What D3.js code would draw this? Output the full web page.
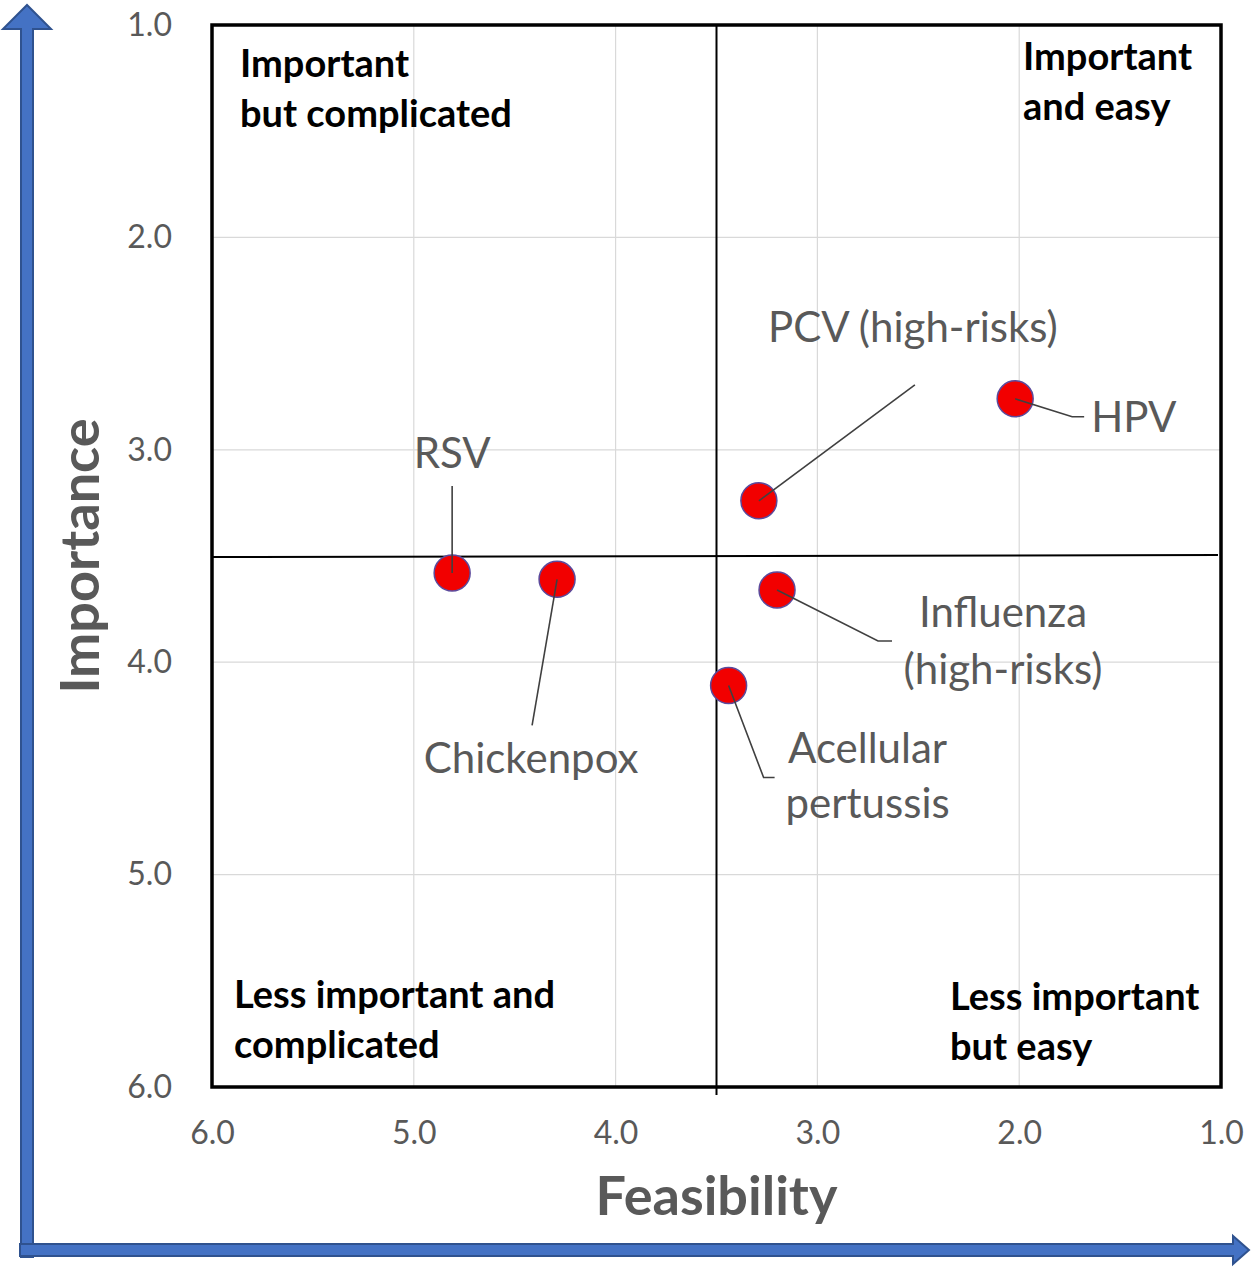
<!DOCTYPE html>
<html>
<head>
<meta charset="utf-8">
<script src="https://cdn.jsdelivr.net/npm/d3@7"></script>
<style>
  body { margin: 0; background: #fff; }
  svg { display: block; }
  text { font-family: Lato, "Open Sans", sans-serif; }
</style>
</head>
<body>
<svg id="chart" width="1253" height="1280"></svg>
<script>
// Data
const vaccines = ["HPV", "PCV (high-risks)", "Influenza (high-risks)", "Acellular pertussis", "RSV", "Chickenpox"];
const feasibility = [2.02, 3.29, 3.20, 3.44, 4.81, 4.29];
const importance = [2.76, 3.24, 3.66, 4.11, 3.58, 3.61];

const tickValues = [6, 5, 4, 3, 2, 1];
const feasibilityCut = 3.5; // quadrant split
const importanceCut = 3.5;

// Label lines for each point (callout text)
const labelLines = [["HPV"], ["PCV (high-risks)"], ["Influenza", "(high-risks)"], ["Acellular", "pertussis"], ["RSV"], ["Chickenpox"]];

// Callout layout, pixel offsets from the point (leader path, text anchor)
const callouts = [
  { path: [[57, 18], [69, 18]], tx: 76, ty: [33], anchor: "start" },
  { path: [[156, -116]], tx: 154, ty: [-159], anchor: "middle" },
  { path: [[101, 51], [115, 51]], tx: 226, ty: [37, 94], anchor: "middle" },
  { path: [[35, 92], [46, 92]], tx: 139, ty: [77, 132], anchor: "middle" },
  { path: [[0, -87]], tx: 0, ty: [-105], anchor: "middle" },
  { path: [[-25, 146]], tx: -26, ty: [194], anchor: "middle" }
];

const quadrantLabels = [
  { lines: ["Important", "but complicated"], x: 240, y: 77 },
  { lines: ["Important", "and easy"], x: 1023, y: 70 },
  { lines: ["Less important and", "complicated"], x: 234, y: 1008 },
  { lines: ["Less important", "but easy"], x: 950, y: 1010 }
];

const svg = d3.select("#chart");

const plot = { left: 212, right: 1221, top: 25, bottom: 1087 };

// Feasibility runs 6 -> 1 left to right, importance 1 -> 6 top to bottom
const x = d3.scaleLinear().domain([6, 1]).range([plot.left, plot.right]);
const y = d3.scaleLinear().domain([1, 6]).range([plot.top, plot.bottom]);

// Blue arrows framing the chart
svg.append("polygon")
  .attr("points", "21,1257 21,29 3,29 27,5 51,29 33,29 33,1257")
  .attr("fill", "#4472C4")
  .attr("stroke", "#2F528F")
  .attr("stroke-width", 2);

svg.append("polygon")
  .attr("points", "20,1244 1233,1244 1233,1236 1249,1250 1233,1264 1233,1256 20,1256")
  .attr("fill", "#4472C4")
  .attr("stroke", "#2F528F")
  .attr("stroke-width", 2);

// Gridlines
svg.append("g")
  .selectAll("line")
  .data(tickValues.filter(d => d !== 6 && d !== 1))
  .join("line")
  .attr("x1", d => x(d))
  .attr("x2", d => x(d))
  .attr("y1", plot.top)
  .attr("y2", plot.bottom)
  .attr("stroke", "#d9d9d9")
  .attr("stroke-width", 1.2);

svg.append("g")
  .selectAll("line")
  .data(tickValues.filter(d => d !== 6 && d !== 1))
  .join("line")
  .attr("x1", plot.left)
  .attr("x2", plot.right)
  .attr("y1", d => y(d))
  .attr("y2", d => y(d))
  .attr("stroke", "#d9d9d9")
  .attr("stroke-width", 1.2);

// Axes (labels only, Excel style)
const xAxis = svg.append("g")
  .attr("transform", `translate(0,${plot.bottom})`)
  .call(d3.axisBottom(x).tickValues(tickValues).tickFormat(d3.format(".1f")).tickSize(0).tickPadding(34));
xAxis.select(".domain").remove();
xAxis.selectAll("text")
  .attr("fill", "#595959")
  .attr("font-size", 32)
  .style("font-family", "Lato, sans-serif");

const yAxis = svg.append("g")
  .attr("transform", `translate(${plot.left},0)`)
  .call(d3.axisLeft(y).tickValues(tickValues).tickFormat(d3.format(".1f")).tickSize(0).tickPadding(40));
yAxis.select(".domain").remove();
yAxis.selectAll("text")
  .attr("fill", "#595959")
  .attr("font-size", 32)
  .style("font-family", "Lato, sans-serif");

// Plot frame
svg.append("rect")
  .attr("x", plot.left)
  .attr("y", plot.top)
  .attr("width", plot.right - plot.left)
  .attr("height", plot.bottom - plot.top)
  .attr("fill", "none")
  .attr("stroke", "#000")
  .attr("stroke-width", 3.5);

// Quadrant dividers
svg.append("line")
  .attr("x1", x(feasibilityCut))
  .attr("x2", x(feasibilityCut))
  .attr("y1", plot.top)
  .attr("y2", plot.bottom + 8)
  .attr("stroke", "#000")
  .attr("stroke-width", 2);

svg.append("line")
  .attr("x1", plot.left)
  .attr("x2", plot.right - 3)
  .attr("y1", y(importanceCut) + 1)
  .attr("y2", y(importanceCut) - 1)
  .attr("stroke", "#000")
  .attr("stroke-width", 2);

// Quadrant labels
quadrantLabels.forEach(q => {
  const t = svg.append("text")
    .attr("x", q.x)
    .attr("y", q.y)
    .attr("font-size", 38)
    .attr("font-weight", "bold")
    .attr("fill", "#000");
  q.lines.forEach((line, i) => {
    t.append("tspan")
      .attr("x", q.x)
      .attr("dy", i === 0 ? 0 : 50)
      .text(line);
  });
});

// Points
const points = vaccines.map((name, i) => ({
  name,
  cx: x(feasibility[i]),
  cy: y(importance[i]),
  lines: labelLines[i],
  callout: callouts[i]
}));

svg.append("g")
  .selectAll("circle")
  .data(points)
  .join("circle")
  .attr("cx", d => d.cx)
  .attr("cy", d => d.cy)
  .attr("r", 18)
  .attr("fill", "#f20000")
  .attr("stroke", "#5b4a9c")
  .attr("stroke-width", 1.5);

// Leader lines drawn on top of the points
const line = d3.line();
svg.append("g")
  .selectAll("path")
  .data(points)
  .join("path")
  .attr("d", d => line([[d.cx, d.cy], ...d.callout.path.map(p => [d.cx + p[0], d.cy + p[1]])]))
  .attr("fill", "none")
  .attr("stroke", "#404040")
  .attr("stroke-width", 1.6);

// Point labels
points.forEach(d => {
  d.lines.forEach((ln, i) => {
    svg.append("text")
      .attr("x", d.cx + d.callout.tx)
      .attr("y", d.cy + d.callout.ty[i])
      .attr("text-anchor", d.callout.anchor)
      .attr("font-size", 42)
      .attr("fill", "#595959")
      .text(ln);
  });
});

// Axis titles
svg.append("text")
  .attr("x", x(feasibilityCut))
  .attr("y", 1215)
  .attr("text-anchor", "middle")
  .attr("font-size", 54)
  .attr("font-weight", "bold")
  .attr("fill", "#595959")
  .text("Feasibility");

svg.append("text")
  .attr("transform", `translate(99,${y(importanceCut)}) rotate(-90)`)
  .attr("text-anchor", "middle")
  .attr("font-size", 54)
  .attr("font-weight", "bold")
  .attr("fill", "#595959")
  .text("Importance");
</script>
</body>
</html>
